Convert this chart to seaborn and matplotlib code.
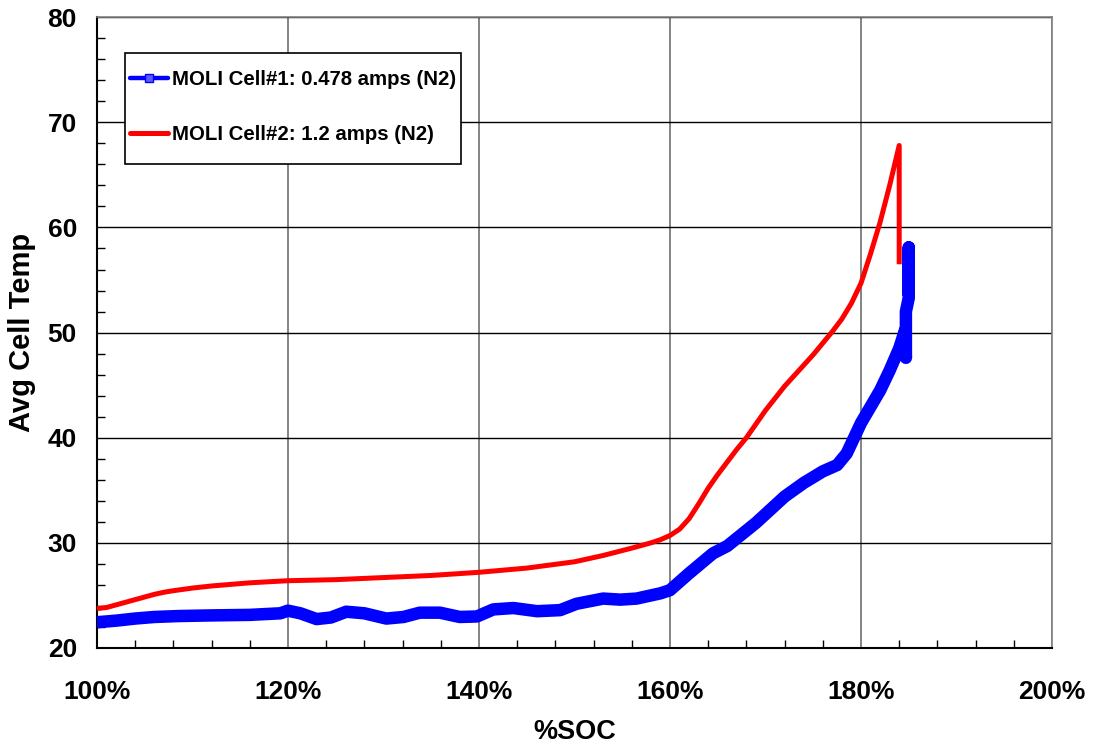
import matplotlib
matplotlib.use("Agg")
import matplotlib.pyplot as plt
from matplotlib.lines import Line2D
from matplotlib.patches import Rectangle
from matplotlib.ticker import MultipleLocator, FuncFormatter
import seaborn as sns
import pandas as pd

# Cell #1 (0.478 A, N2): state of charge (%) vs average cell temperature
cell1_soc = [100, 102, 104, 106, 108.6, 112, 116, 119.2, 120, 121.3, 123, 124.5, 126.1, 128,
             130.3, 132.1, 133.8, 135.9, 138, 139.8, 141.5, 143.6, 146.1, 148.5, 150.2, 153,
             154.8, 156.5, 159, 160, 162, 164.5, 166, 169, 172, 174, 176, 177.5, 178.5, 180,
             182, 183, 184, 184.6, 184.7, 184.7, 185.0, 185.0, 185.0]
cell1_temp = [22.45, 22.6, 22.8, 22.95, 23.04, 23.1, 23.15, 23.3, 23.55, 23.3, 22.75, 22.9, 23.45, 23.3,
              22.8, 22.95, 23.36, 23.36, 22.95, 23.0, 23.67, 23.8, 23.5, 23.6, 24.2, 24.7,
              24.6, 24.7, 25.2, 25.5, 27.1, 29.0, 29.7, 31.9, 34.4, 35.7, 36.8, 37.4, 38.5, 41.4,
              44.5, 46.4, 48.5, 50.2, 47.6, 52.0, 53.3, 58.1, 53.5]

# Cell #2 (1.2 A, N2)
cell2_soc = [100, 101, 102, 103, 104, 105, 106, 107, 108, 110, 112, 114, 116, 118, 120, 125,
             130, 135, 140, 145, 150, 153, 156, 158, 159, 160, 161, 162, 163, 164, 165, 166,
             167, 168, 170, 172, 175, 177, 178, 179, 180, 181, 182, 183, 184, 184]
cell2_temp = [23.75, 23.85, 24.1, 24.35, 24.6, 24.85, 25.1, 25.3, 25.45, 25.7, 25.9, 26.05, 26.2, 26.3,
              26.4, 26.5, 26.7, 26.9, 27.2, 27.6, 28.2, 28.8, 29.5, 30.0, 30.3, 30.7, 31.3, 32.3,
              33.7, 35.2, 36.5, 37.7, 38.9, 40.0, 42.6, 44.9, 47.9, 50.1, 51.3, 52.8, 54.7, 57.5,
              60.5, 64.0, 67.8, 56.5]

label1 = "MOLI Cell#1: 0.478 amps (N2)"
label2 = "MOLI Cell#2: 1.2 amps (N2)"

sns.set_style("white")
plt.rcParams["font.family"] = ["Liberation Sans", "DejaVu Sans"]
plt.rcParams["font.weight"] = "bold"
for key in ["text.color", "axes.labelcolor", "xtick.color", "ytick.color"]:
    plt.rcParams[key] = "black"

fig = plt.figure(figsize=(10.93, 7.48), dpi=100)
ax = fig.add_axes([0.0887, 0.1337, 0.8738, 0.8433])

df1 = pd.DataFrame({"soc": cell1_soc, "temp": cell1_temp})
df2 = pd.DataFrame({"soc": cell2_soc, "temp": cell2_temp})

sns.lineplot(data=df2, x="soc", y="temp", sort=False, estimator=None, ax=ax,
             color="#ff0000", lw=3.6, zorder=3, solid_joinstyle="round",
             solid_capstyle="butt")
sns.lineplot(data=df1, x="soc", y="temp", sort=False, estimator=None, ax=ax,
             color="#0000ff", lw=9, zorder=4, solid_joinstyle="round",
             solid_capstyle="butt")

ax.set_xlim(100, 200)
ax.set_ylim(20, 80)
ax.xaxis.set_major_locator(MultipleLocator(20))
ax.xaxis.set_minor_locator(MultipleLocator(4))
ax.yaxis.set_major_locator(MultipleLocator(10))
ax.yaxis.set_minor_locator(MultipleLocator(2))
ax.xaxis.set_major_formatter(FuncFormatter(lambda v, p: f"{v:.0f}%"))

ax.grid(True, which="major", axis="x", color="#707070", lw=1.2)
ax.grid(True, which="major", axis="y", color="#000000", lw=1.0)
ax.set_axisbelow(True)

ax.tick_params(axis="both", which="minor", direction="in", length=6, width=1,
               color="black", bottom=True, left=True, top=False, right=False)
ax.tick_params(axis="both", which="major", direction="in", length=8, width=1,
               color="black", labelcolor="black", labelsize=19)
ax.tick_params(axis="x", which="major", pad=23)
ax.tick_params(axis="y", which="major", pad=14.4)

for side in ["left", "bottom"]:
    ax.spines[side].set_color("black")
    ax.spines[side].set_linewidth(1.5)
for side in ["top", "right"]:
    ax.spines[side].set_color("#808080")
    ax.spines[side].set_linewidth(1.2)

ax.set_xlabel("%SOC", fontsize=19.5, fontweight="bold", labelpad=11, color="black")
ax.set_ylabel("Avg Cell Temp", fontsize=21, fontweight="bold", labelpad=8, color="black")

# Legend box drawn as its own white rectangle so padding can differ per side
box = Rectangle((0.0293, 0.767), 0.3519, 0.1759, transform=ax.transAxes,
                facecolor="white", edgecolor="black", lw=1.2, zorder=5)
ax.add_patch(box)

handles = [
    Line2D([0], [0], color="#0000ff", lw=3.2, marker="s", markersize=5.8,
           markerfacecolor="#5a5aff", markeredgecolor="#0000ff", markeredgewidth=1),
    Line2D([0], [0], color="#ff0000", lw=3.6),
]
leg = ax.legend(handles, [label1, label2], loc="center",
                bbox_to_anchor=(0.2058, 0.8574), frameon=False, borderpad=0,
                labelspacing=1.75, handlelength=1.86, handletextpad=0.2,
                prop={"size": 14.7, "weight": "bold"}, labelcolor="black")
leg.set_zorder(6)

fig.savefig("out.png", dpi=100)
